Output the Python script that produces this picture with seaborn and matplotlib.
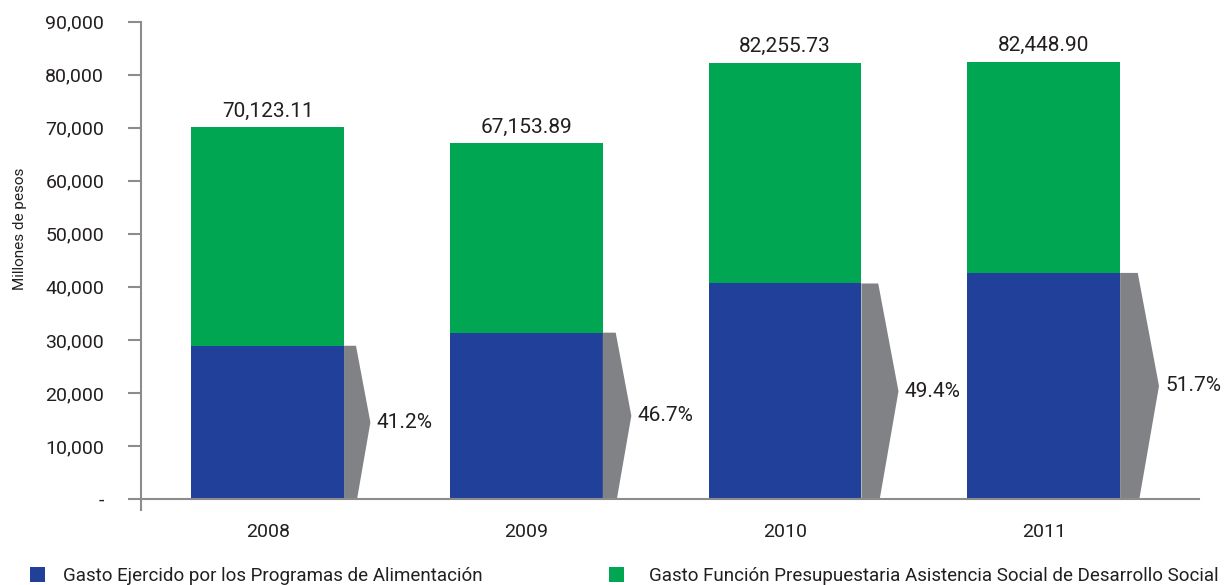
import matplotlib
matplotlib.use("Agg")
import matplotlib.pyplot as plt
from matplotlib.patches import Polygon, Patch
import seaborn as sns
import pandas as pd

# Data (millions of pesos)
years = ["2008", "2009", "2010", "2011"]
total_spend = [70123.11, 67153.89, 82255.73, 82448.90]
food_programs = [28890.72, 31360.87, 40634.33, 42626.08]
share_labels = ["41.2%", "46.7%", "49.4%", "51.7%"]
ytick_values = [0, 10000, 20000, 30000, 40000, 50000, 60000, 70000, 80000, 90000]
ytick_labels = ["-", "10,000", "20,000", "30,000", "40,000", "50,000",
                "60,000", "70,000", "80,000", "90,000"]
legend_labels = ["Gasto Ejercido por los Programas de Alimentación",
                 "Gasto Función Presupuestaria Asistencia Social de Desarrollo Social"]

BLUE = "#21409A"
GREEN = "#00A651"
GREY = "#808285"
AXIS_GREY = "#8C8C8C"
TEXT = "#231F20"

sns.set_theme(style="white")
plt.rcParams["font.family"] = ["Roboto", "DejaVu Sans"]
plt.rcParams["text.color"] = TEXT

df = pd.DataFrame({"year": years, "total": total_spend, "food": food_programs})

fig = plt.figure(figsize=(12.29, 5.85), dpi=100)
ax = fig.add_axes([0.1147, 0.147, 0.9756 - 0.1147, 0.963 - 0.147])

bar_w = 0.59
sns.barplot(data=df, x="year", y="total", order=years, color=GREEN,
            saturation=1, width=bar_w, ax=ax, edgecolor="none")
sns.barplot(data=df, x="year", y="food", order=years, color=BLUE,
            saturation=1, width=bar_w, ax=ax, edgecolor="none")

x_left, x_right = -0.49, 3.60
ax.set_xlim(x_left, x_right)
ax.set_ylim(0, 90000)

# axes styling
for side in ("top", "right"):
    ax.spines[side].set_visible(False)
for side in ("left", "bottom"):
    ax.spines[side].set_color(AXIS_GREY)
    ax.spines[side].set_linewidth(1.5)
    ax.spines[side].set_zorder(5)

ax.set_yticks(ytick_values)
ax.set_yticklabels(ytick_labels)
ax.tick_params(axis="y", direction="out", length=9.5, width=1.5, color=AXIS_GREY,
               pad=17, labelsize=14, labelcolor=TEXT, left=True)
ax.tick_params(axis="x", which="major", length=0, pad=17, labelsize=14, labelcolor=TEXT)
ax.set_xticks([x_left], minor=True)
ax.tick_params(axis="x", which="minor", direction="out", length=8.5, width=1.5,
               color=AXIS_GREY, bottom=True)
ax.set_xlabel("")
ax.set_ylabel("Millones de pesos", fontsize=11, color=TEXT)
ax.yaxis.set_label_coords(-0.108, 0.567)

# chevron markers beside each blue bar, sized relative to the bar's height on screen
fig.canvas.draw()
px_per_x = ax.bbox.width / (x_right - x_left)
px_per_y = ax.bbox.height / 90000
for i, (b, lab) in enumerate(zip(food_programs, share_labels)):
    r = i + bar_w / 2
    h_px = b * px_per_y
    dx_top = 0.078 * h_px / px_per_x
    dx_tip = 0.172 * h_px / px_per_x
    dx_bot = 0.085 * h_px / px_per_x
    poly = Polygon([(r, b), (r + dx_top, b), (r + dx_tip, b / 2),
                    (r + dx_bot, 0), (r, 0)], closed=True,
                   facecolor=GREY, edgecolor="none", zorder=3)
    ax.add_patch(poly)
    ax.annotate(lab, xy=(r + dx_tip, b / 2), xytext=(4.5, 0),
                textcoords="offset points", ha="left", va="center",
                fontsize=15, color=TEXT)

# totals above each stacked bar
for i, t in enumerate(total_spend):
    ax.annotate(f"{t:,.2f}", xy=(i, t), xytext=(0, 7.5), textcoords="offset points",
                ha="center", va="baseline", fontsize=15, color=TEXT)

# legend entries placed along the bottom edge
for lab, col, xpos, gap in zip(legend_labels, [BLUE, GREEN],
                               [30 / 1229, 609 / 1229], [0.95, 1.35]):
    fig.legend(handles=[Patch(facecolor=col, edgecolor="none", label=lab)],
               loc="center left", bbox_to_anchor=(xpos, 1 - 576 / 585),
               frameon=False, fontsize=13.5, borderpad=0, borderaxespad=0,
               handlelength=0.8, handleheight=0.8, handletextpad=gap,
               labelcolor=TEXT)

fig.savefig("out.png", dpi=100)
